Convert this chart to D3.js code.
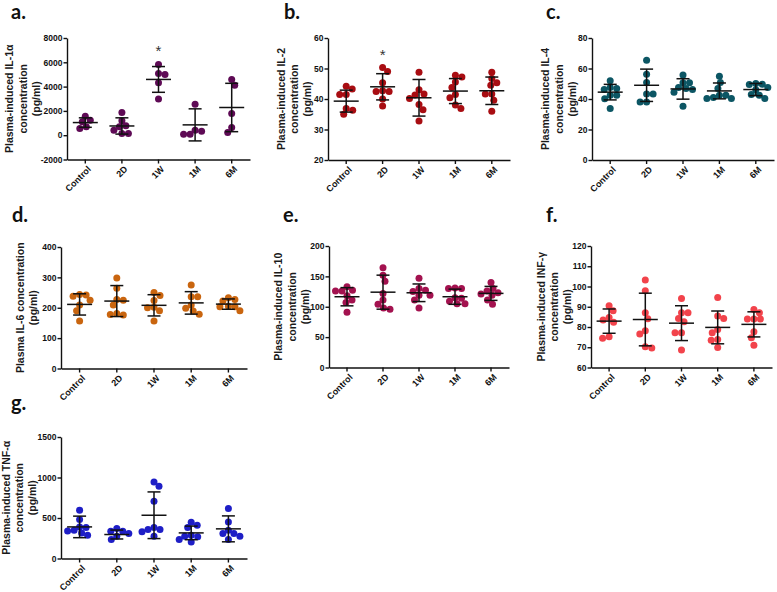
<!DOCTYPE html>
<html>
<head>
<meta charset="utf-8">
<script src="https://cdn.jsdelivr.net/npm/d3@7"></script>
<style>
  body { margin: 0; background: #ffffff; }
  text { font-family: "Liberation Sans", Arial, sans-serif; }
</style>
</head>
<body>
<script>
// groups on every x axis
var groups = ["Control", "2D", "1W", "1M", "6M"];

// a. IL-1 alpha
var il1aValues = [[1560, 1240, 1100, 690, 550], [1870, 1180, 770, 690, 410, 140, 140], [5820, 5080, 5000, 4310, 2970], [2550, 410, 330, 80, 80], [4590, 4120, 1790, 630, 220]];
var il1aMean = [1040, 760, 4590, 850, 2280];
var il1aSD = [390, 670, 1060, 1320, 1990];
var il1aTicks = [-2000, 0, 2000, 4000, 6000, 8000];

// b. IL-2
var il2Values = [[44.2, 43.3, 41.5, 41.5, 36.9, 36.3, 35.0], [50.3, 49.0, 45.3, 42.7, 42.5, 42.5, 40.0, 37.7], [48.8, 43.0, 41.6, 41.3, 40.2, 38.2, 36.5, 32.8], [47.8, 47.2, 45.6, 43.8, 41.5, 40.4, 38.0, 36.9], [48.8, 46.7, 45.3, 44.5, 41.6, 41.6, 39.6, 36.0]];
var il2Mean = [39.3, 44.0, 40.4, 42.6, 42.7];
var il2SD = [3.6, 4.3, 6.0, 4.1, 4.5];
var il2Ticks = [20, 30, 40, 50, 60];

// c. IL-4
var il4Values = [[51.9, 47.5, 46.9, 46.2, 42.5, 42.5, 40.1, 33.8], [65.4, 56.2, 50.8, 43.2, 43.2, 38.1, 38.1], [55.8, 50.6, 50.6, 47.5, 46.9, 46.2, 44.5, 35.3], [54.9, 50.8, 46.9, 42.5, 42.5, 41.0, 40.3, 40.3], [50.2, 49.7, 49.5, 47.5, 46.0, 42.9, 42.5, 40.3]];
var il4Mean = [44.5, 49.0, 46.6, 45.3, 46.2];
var il4SD = [5.1, 10.6, 6.7, 5.2, 4.0];
var il4Ticks = [0, 20, 40, 60, 80];

// d. IL-6
var il6Values = [[244, 242, 238, 225, 209, 190, 156], [298, 264, 227, 225, 209, 181, 178, 176], [250, 240, 224, 202, 200, 190, 156], [275, 236, 236, 209, 198, 189, 179], [233, 227, 222, 205, 203, 203, 190]];
var il6Mean = [211, 222, 208, 216, 212];
var il6SD = [35, 51, 35, 37, 17];
var il6Ticks = [0, 100, 200, 300, 400];

// e. IL-10
var il10Values = [[133, 127, 126, 126, 118, 111, 107, 91], [164, 152, 142, 122, 111, 104, 98, 96], [147, 130, 127, 125, 119, 119, 111, 98], [131, 130, 130, 115, 114, 109, 105, 105], [140, 130, 126, 123, 121, 119, 111, 104]];
var il10Mean = [116.5, 124, 123, 116.5, 122];
var il10SD = [15, 28, 14.5, 12.5, 11.5];
var il10Ticks = [0, 50, 100, 150, 200];

// f. INF-gamma
var infgValues = [[90.5, 88.0, 84.7, 83.4, 82.4, 75.2, 74.5], [103.2, 97.9, 87.0, 84.1, 78.1, 76.5, 70.2, 69.6], [94.1, 87.0, 87.0, 84.2, 82.6, 77.1, 77.1, 68.6], [94.6, 85.4, 84.2, 78.8, 77.1, 73.8, 73.5, 69.9], [88.7, 87.0, 83.9, 83.9, 83.9, 77.6, 74.7, 71.0]];
var infgMean = [82.9, 83.7, 81.9, 79.8, 81.3];
var infgSD = [6.0, 13.0, 8.6, 8.1, 6.2];
var infgTicks = [60, 70, 80, 90, 100, 110, 120];

// g. TNF-alpha
var tnfaValues = [[596, 481, 390, 382, 349, 341, 316, 288], [370, 337, 337, 308, 275, 234], [945, 892, 707, 382, 358, 358, 329, 275], [448, 411, 382, 288, 275, 267, 234, 205], [617, 452, 349, 308, 308, 275, 234]];
var tnfaMean = [390, 296, 534, 316, 366];
var tnfaSD = [133, 55, 288, 84, 160];
var tnfaTicks = [0, 500, 1000, 1500];

var svg = d3.select("body").append("svg")
    .attr("width", 777)
    .attr("height", 592);

var panels = [
  { label: "a.", lx: 11, ly: 19, x: 67, y: 38, w: 183, h: 121.5, colour: "#5e0a55",
    values: il1aValues, mean: il1aMean, sd: il1aSD, ticks: il1aTicks,
    title: ["Plasma-induced IL-1\u03b1", "concentration", "(pg/ml)"], tx: [9.5, 23, 36.5],
    star: { group: "1W", value: 7400 } },
  { label: "b.", lx: 284, ly: 19, x: 328, y: 38, w: 182, h: 122, colour: "#a80d12",
    values: il2Values, mean: il2Mean, sd: il2SD, ticks: il2Ticks,
    title: ["Plasma-induced IL-2", "concentration", "(pg/ml)"], tx: [281.5, 294.5, 307.5],
    star: { group: "2D", value: 56.3 } },
  { label: "c.", lx: 546, ly: 19, x: 592, y: 38, w: 182, h: 122, colour: "#0c5664",
    values: il4Values, mean: il4Mean, sd: il4SD, ticks: il4Ticks,
    title: ["Plasma-induced IL-4", "concentration", "(pg/ml)"], tx: [545.5, 559, 572.5] },
  { label: "d.", lx: 12, ly: 222, x: 61, y: 247, w: 186, h: 121.5, colour: "#c9650f",
    values: il6Values, mean: il6Mean, sd: il6SD, ticks: il6Ticks,
    title: ["Plasma IL-6 concentration", "(pg/ml)"], tx: [20.5, 33.5] },
  { label: "e.", lx: 283, ly: 222, x: 329, y: 246, w: 180, h: 121.5, colour: "#a3124f",
    values: il10Values, mean: il10Mean, sd: il10SD, ticks: il10Ticks,
    title: ["Plasma-induced IL-10", "concentration", "(pg/ml)"], tx: [278.5, 292, 305] },
  { label: "f.", lx: 546, ly: 222, x: 591, y: 246, w: 181, h: 121.5, colour: "#f2434b",
    values: infgValues, mean: infgMean, sd: infgSD, ticks: infgTicks,
    title: ["Plasma-induced INF-\u03b3", "concentration", "(pg/ml)"], tx: [541.5, 554.5, 567] },
  { label: "g.", lx: 11, ly: 410, x: 61, y: 437, w: 186, h: 121.5, colour: "#1e1ec6",
    values: tnfaValues, mean: tnfaMean, sd: tnfaSD, ticks: tnfaTicks,
    title: ["Plasma-induced TNF-\u03b1", "concentration", "(pg/ml)"], tx: [6, 19.5, 32.5] }
];

var r = 3.5;

// beeswarm: each dot goes to the nearest free spot beside the group centre
function swarm(vals, y) {
  var minDist = 6.3;
  var placed = [];
  var out = [];
  var order = vals.map(function(v, i) { return i; })
      .sort(function(a, b) { return vals[b] - vals[a]; });
  order.forEach(function(i) {
    var py = y(vals[i]);
    var free = function(dx) {
      return placed.every(function(q) { return Math.hypot(q.dx - dx, q.py - py) >= minDist; });
    };
    var bal = d3.sum(placed, function(q) { return q.dx; });
    var dx = 0;
    for (var s = 0; s <= 40; s += 0.5) {
      var first = bal > 0 ? -s : s;
      if (free(first)) { dx = first; break; }
      if (free(-first)) { dx = -first; break; }
    }
    placed.push({ dx: dx, py: py });
    out[i] = { v: vals[i], dx: dx };
  });
  return out;
}

panels.forEach(function(p) {
  var g = svg.append("g");

  var x = d3.scaleBand().domain(groups).range([p.x, p.x + p.w]);
  var y = d3.scaleLinear().domain(d3.extent(p.ticks)).range([p.y + p.h, p.y]);

  // panel letter
  svg.append("text")
      .attr("x", p.lx)
      .attr("y", p.ly)
      .style("font-family", "Lato, 'Open Sans', sans-serif")
      .style("font-weight", "700")
      .style("font-size", "20px")
      .attr("fill", "#111")
      .text(p.label);

  // y axis title
  p.title.forEach(function(t, i) {
    svg.append("text")
        .attr("transform", "translate(" + p.tx[i] + "," + (p.y + p.h / 2) + ") rotate(-90)")
        .attr("dy", "0.35em")
        .attr("text-anchor", "middle")
        .style("font-weight", "700")
        .style("font-size", "10.5px")
        .attr("fill", "#1a1a1a")
        .text(t);
  });

  // dots
  groups.forEach(function(grp, gi) {
    var cx = x(grp) + x.bandwidth() / 2;
    g.selectAll(".dot" + gi)
        .data(swarm(p.values[gi], y))
        .enter().append("circle")
        .attr("cx", function(d) { return cx + d.dx; })
        .attr("cy", function(d) { return y(d.v); })
        .attr("r", r)
        .style("fill", p.colour);
  });

  // mean and SD bars
  var bars = g.selectAll(".bar")
      .data(groups)
      .enter().append("g")
      .attr("transform", function(d) { return "translate(" + (x(d) + x.bandwidth() / 2) + ",0)"; });
  bars.append("line")
      .attr("y1", function(d, i) { return y(p.mean[i] + p.sd[i]); })
      .attr("y2", function(d, i) { return y(p.mean[i] - p.sd[i]); });
  bars.append("line")
      .attr("x1", -6.5).attr("x2", 6.5)
      .attr("y1", function(d, i) { return y(p.mean[i] + p.sd[i]); })
      .attr("y2", function(d, i) { return y(p.mean[i] + p.sd[i]); });
  bars.append("line")
      .attr("x1", -6.5).attr("x2", 6.5)
      .attr("y1", function(d, i) { return y(p.mean[i] - p.sd[i]); })
      .attr("y2", function(d, i) { return y(p.mean[i] - p.sd[i]); });
  bars.append("line")
      .attr("x1", -12.5).attr("x2", 12.5)
      .attr("y1", function(d, i) { return y(p.mean[i]); })
      .attr("y2", function(d, i) { return y(p.mean[i]); });
  bars.selectAll("line")
      .style("stroke", "#111")
      .style("stroke-width", 1.5);

  // significance star
  if (p.star) {
    g.append("text")
        .attr("x", x(p.star.group) + x.bandwidth() / 2)
        .attr("y", y(p.star.value))
        .attr("dy", "0.7em")
        .attr("text-anchor", "middle")
        .style("font-size", "15px")
        .attr("fill", "#333")
        .text("*");
  }

  // axes
  var yAxis = g.append("g")
      .attr("transform", "translate(" + p.x + ",0)")
      .call(d3.axisLeft(y).tickValues(p.ticks).tickSize(3.5).tickSizeOuter(0).tickPadding(1)
        .tickFormat(function(d) { return String(d); }));

  var xAxis = g.append("g")
      .attr("transform", "translate(0," + (p.y + p.h) + ")")
      .call(d3.axisBottom(x).tickSize(4).tickSizeOuter(0));

  xAxis.selectAll("text")
      .attr("x", 0)
      .attr("y", 0)
      .attr("dy", "0.35em")
      .attr("transform", "translate(4,8) rotate(-45)")
      .style("text-anchor", "end")
      .style("font-size", "9px");

  yAxis.selectAll("text").style("font-size", "8.5px");

  [yAxis, xAxis].forEach(function(a) {
    a.selectAll("path, line").style("stroke", "#111").style("stroke-width", 1.4);
    a.selectAll("text")
        .style("font-family", "'Liberation Sans', Arial, sans-serif")
        .style("font-weight", "700")
        .attr("fill", "#111");
  });
});
</script>
</body>
</html>
